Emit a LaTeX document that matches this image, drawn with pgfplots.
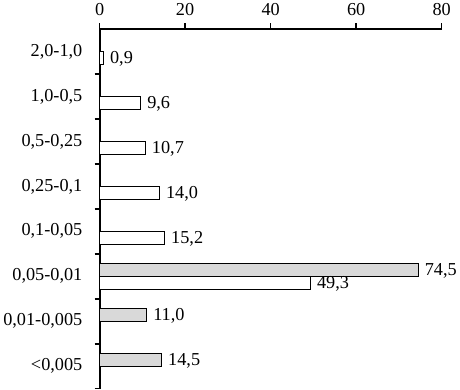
\documentclass[border=0pt]{standalone}
\usepackage{fontspec}
\setmainfont{Liberation Serif}
\usepackage{pgfplots}
\pgfplotsset{compat=1.18}
\definecolor{bargrey}{HTML}{D9D9D9}
\begin{document}
\begin{tikzpicture}
\begin{axis}[
  scale only axis,
  width=347pt, height=365pt,
  xbar,
  bar width=13pt,
  xmin=0, xmax=80,
  ymin=-0.5, ymax=7.5,
  axis x line*=top,
  axis y line*=left,
  axis line style={line width=2pt},
  xtick={0,20,40,60,80},
  xticklabel style={font=\fontsize{18.5}{21}\selectfont, yshift=4pt},
  /pgf/number format/assume math mode=true,
  ytick={0,1,2,3,4,5,6,7},
  yticklabels={{<0,005},{0,01-0,005},{0,05-0,01},{0,1-0,05},{0,25-0,1},{0,5-0,25},{1,0-0,5},{2,0-1,0}},
  yticklabel style={font=\fontsize{18.5}{21}\selectfont, xshift=-8pt},
  minor ytick={-0.5,0.5,1.5,2.5,3.5,4.5,5.5,6.5},
  tick align=outside,
  major x tick style={line width=1.5pt, black},
  minor y tick style={line width=1.5pt, black},
  major y tick style={draw=none},
  major tick length=6pt,
  minor tick length=5pt,
  nodes near coords={\pgfmathprintnumber[fixed,fixed zerofill,precision=1,use comma,assume math mode=true]{\pgfplotspointmeta}},
  nodes near coords style={font=\fontsize{18.5}{21}\selectfont, anchor=west, xshift=3pt, yshift=-1pt},
  clip=false,
]
\addplot[draw=black, line width=0.8pt, fill=bargrey, bar shift=6.5pt] coordinates {
  (74.5,2) (11.0,1) (14.5,0)
};
\addplot[draw=black, line width=0.8pt, fill=white, bar shift=-6.5pt] coordinates {
  (0.9,7) (9.6,6) (10.7,5) (14.0,4) (15.2,3) (49.3,2)
};
\end{axis}
\end{tikzpicture}
\end{document}
